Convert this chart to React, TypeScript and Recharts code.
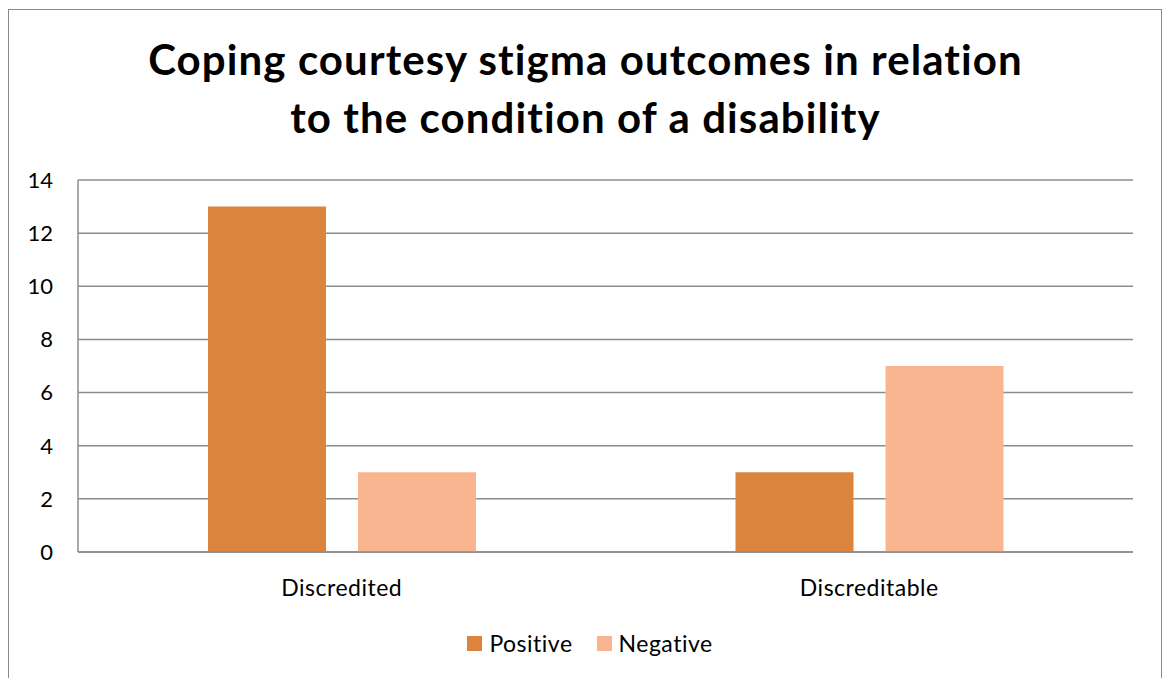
import { BarChart, Bar, XAxis, YAxis, CartesianGrid, Legend } from 'recharts';

// Counts of coping outcomes per condition type
const conditions = ['Discredited', 'Discreditable'];
const positive = [13, 3];
const negative = [3, 7];
const yTicks = [0, 2, 4, 6, 8, 10, 12, 14];
const seriesOrder = ['Positive', 'Negative'];

const data = conditions.map((name, i) => ({
  name,
  Positive: positive[i],
  Negative: negative[i],
}));

const FONT = 'Lato, "Open Sans", sans-serif';
const GRID = '#8c8c8c';

// legend kept in series order (recharts sorts by name otherwise)
function LegendRow({ payload }: any) {
  const items = [...(payload || [])].sort(
    (a: any, b: any) => seriesOrder.indexOf(a.value) - seriesOrder.indexOf(b.value)
  );
  return (
    <div style={{ display: 'flex', justifyContent: 'center', alignItems: 'center', fontFamily: FONT, fontSize: 23, letterSpacing: 0.5 }}>
      {items.map((it: any, i: number) => (
        <div key={it.value} style={{ display: 'flex', alignItems: 'center', marginLeft: i ? 24 : 0 }}>
          <span style={{ display: 'inline-block', width: 15, height: 15, background: it.color, marginRight: 7 }} />
          <span style={{ color: '#000' }}>{it.value}</span>
        </div>
      ))}
    </div>
  );
}

export default function App() {
  return (
    <div style={{ position: 'absolute', left: 0, top: 0, width: 1164, height: 678, background: '#fff', overflow: 'hidden' }}>
      {/* frame around the chart area (open at the bottom) */}
      <div
        style={{
          position: 'absolute',
          left: 8,
          top: 9,
          width: 1152,
          height: 700,
          border: '1.5px solid #898989',
          borderBottom: 'none',
        }}
      />
      <div
        style={{
          position: 'absolute',
          left: 0,
          top: 30,
          width: 1171,
          textAlign: 'center',
          fontFamily: FONT,
          fontWeight: 700,
          fontSize: 42,
          letterSpacing: 1.1,
          lineHeight: '58px',
          color: '#000',
        }}
      >
        Coping courtesy stigma outcomes in relation
        <br />
        to the condition of a disability
      </div>
      <div style={{ position: 'absolute', left: 0, top: 0 }}>
        <BarChart
          width={1164}
          height={678}
          data={data}
          margin={{ top: 180, right: 31, bottom: 96, left: 0 }}
          barCategoryGap={130}
          barGap={32}
        >
          <CartesianGrid vertical={false} stroke={GRID} strokeWidth={1.5} />
          <XAxis
            dataKey="name"
            axisLine={{ stroke: GRID, strokeWidth: 1.5 }}
            tickLine={false}
            tickMargin={22}
            height={30}
            tick={{ fill: '#000', fontSize: 23, fontFamily: FONT, letterSpacing: 0.5 }}
          />
          <YAxis
            width={78}
            domain={[0, 14]}
            ticks={yTicks}
            axisLine={{ stroke: GRID, strokeWidth: 1.5 }}
            tickLine={false}
            tickMargin={19}
            tick={{ fill: '#000', fontSize: 22, fontFamily: FONT }}
          />
          <Legend
            layout="horizontal"
            verticalAlign="middle"
            align="center"
            content={<LegendRow />}
            wrapperStyle={{ top: 629, left: 0, width: 1180 }}
          />
          <Bar dataKey="Positive" fill="#DB843D" isAnimationActive={false} />
          <Bar dataKey="Negative" fill="#F9B590" isAnimationActive={false} />
        </BarChart>
      </div>
    </div>
  );
}
